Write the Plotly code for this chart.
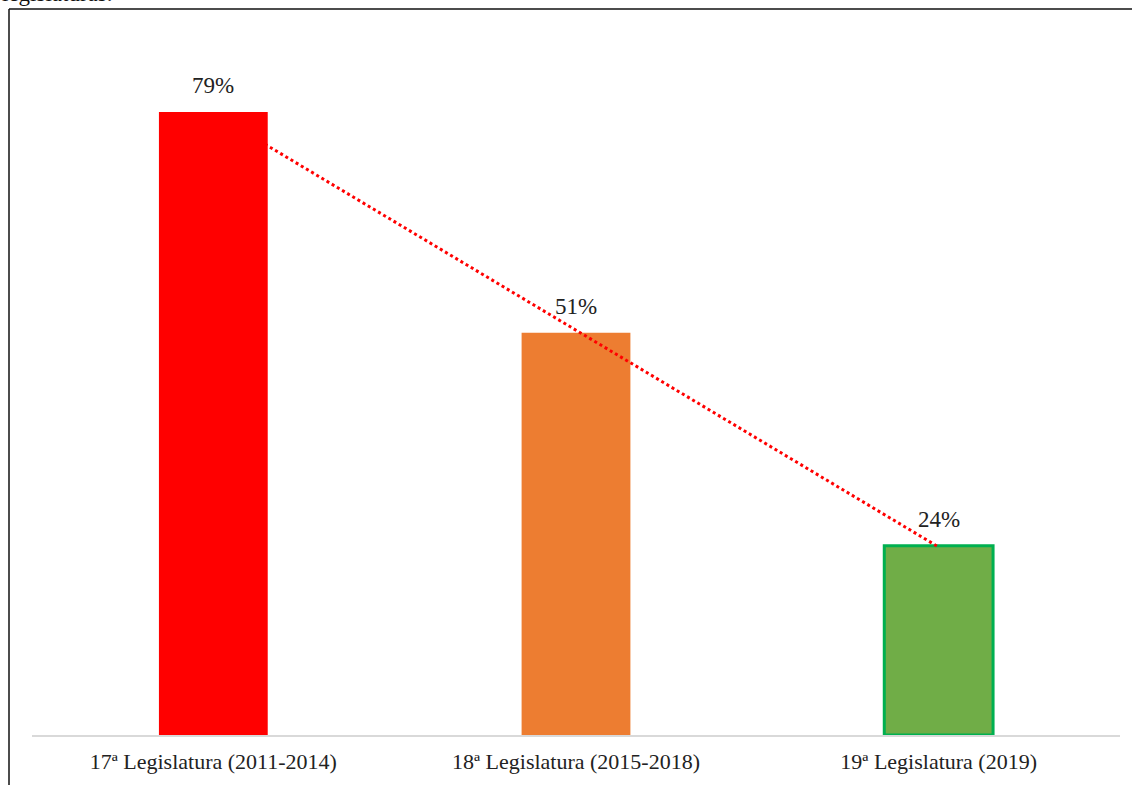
import numpy as np
import plotly.graph_objects as go

categories = ["17ª Legislatura (2011-2014)", "18ª Legislatura (2015-2018)", "19ª Legislatura (2019)"]
values = [79, 51, 24]
bar_colors = ["#FF0000", "#ED7D31", "#70AD47"]
border_colors = ["#FF0000", "#ED7D31", "#00B050"]
border_widths = [0, 0, 3]
labels = [f"{v}%" for v in values]

FONT = "Liberation Serif, Times New Roman, DejaVu Serif, serif"

W, H = 1132, 785
L, R, T, B = 32, 12, 30, 50

xi = np.arange(len(values))
slope, intercept = np.polyfit(xi, values, 1)
trend = slope * xi + intercept

fig = go.Figure()
fig.add_trace(go.Bar(
    x=categories, y=values,
    marker=dict(color=bar_colors, line=dict(color=border_colors, width=border_widths)),
    width=0.30, showlegend=False, hoverinfo="skip",
))
fig.add_trace(go.Scatter(
    x=categories, y=trend, mode="lines",
    line=dict(color="#FF0000", width=3, dash="dot"),
    showlegend=False, hoverinfo="skip",
))

for c, v, t in zip(categories, values, labels):
    fig.add_annotation(x=c, y=v, text=t, showarrow=False, yanchor="bottom", yshift=12,
                       font=dict(family=FONT, size=23, color="#222222"))

pw = W - L - R
ph = H - T - B
def px_x(px):
    return (px - L) / pw
def px_y(py):
    return (H - B - py) / ph

# outer frame (left and top edges visible)
fig.add_shape(type="line", xref="paper", yref="paper",
              x0=px_x(9), x1=px_x(9), y0=px_y(9), y1=px_y(800),
              line=dict(color="#111111", width=1.5))
fig.add_shape(type="line", xref="paper", yref="paper",
              x0=px_x(9), x1=px_x(1140), y0=px_y(9), y1=px_y(9),
              line=dict(color="#111111", width=1.5))

# cut-off caption at the top
fig.add_annotation(xref="paper", yref="paper", x=px_x(0), y=px_y(8),
                   xanchor="left", yanchor="bottom", showarrow=False, text="legislaturas.",
                   font=dict(family=FONT, size=23, color="#111111"))

fig.update_layout(
    width=W, height=H,
    margin=dict(l=L, r=R, t=T, b=B),
    plot_bgcolor="white", paper_bgcolor="white",
    xaxis=dict(showline=True, linecolor="#D9D9D9", linewidth=1.5, showgrid=False,
               ticks="", tickfont=dict(family=FONT, size=22, color="#222222"),
               range=[-0.5, 2.5], ticklabelstandoff=6),
    yaxis=dict(range=[0, 89.4], visible=False, showgrid=False),
)

fig.write_html("out.html", config={"displayModeBar": False},
               post_script="document.body.style.margin='0';")
